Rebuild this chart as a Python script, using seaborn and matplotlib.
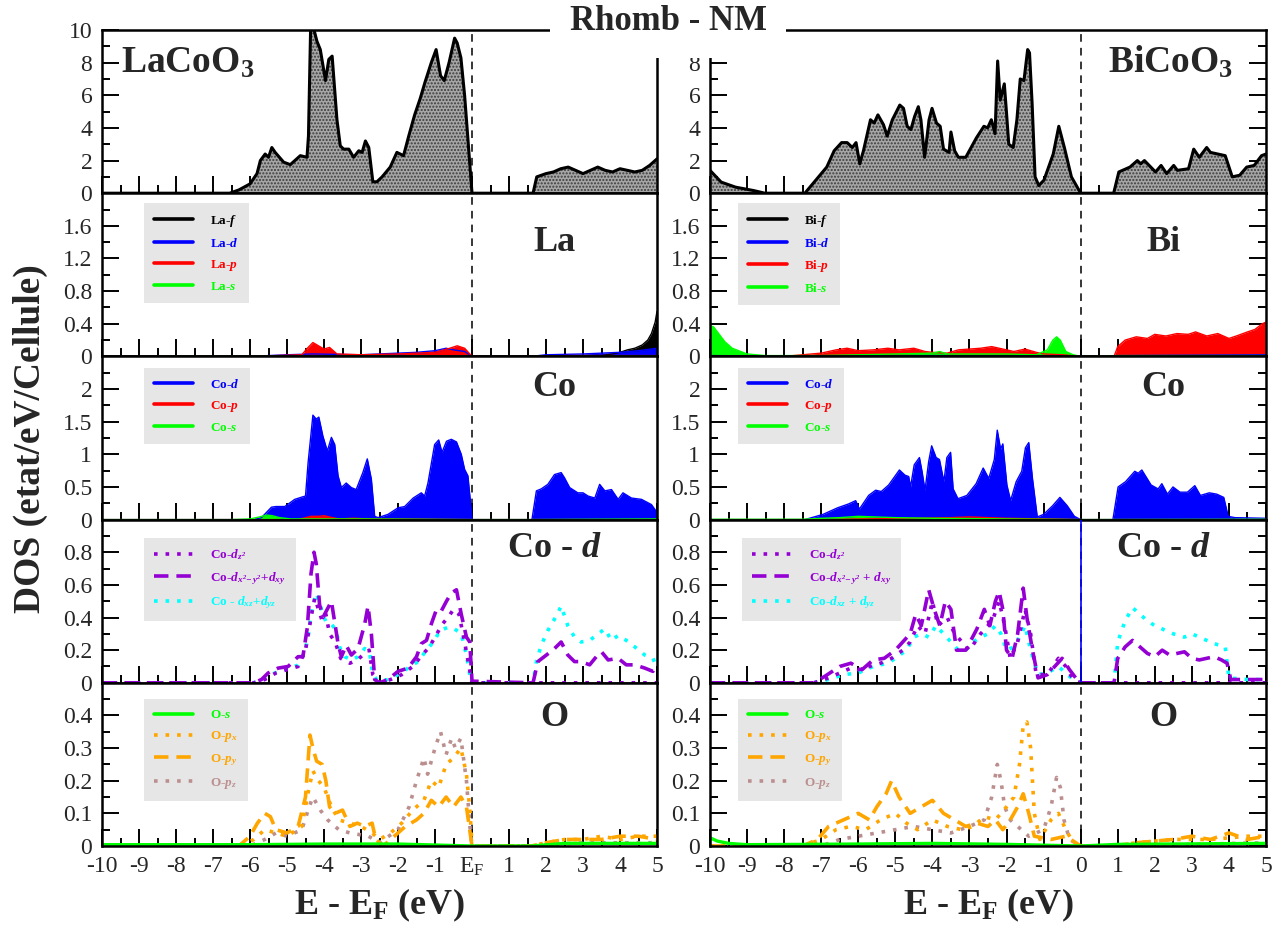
import numpy as np
import matplotlib
matplotlib.use("Agg")
import matplotlib.pyplot as plt
import seaborn as sns
from matplotlib.lines import Line2D
from matplotlib.ticker import FuncFormatter

sns.set_theme(style="ticks")
plt.rcParams['font.family'] = ['Liberation Serif', 'DejaVu Serif']
plt.rcParams['mathtext.fontset'] = 'custom'
plt.rcParams['mathtext.rm'] = 'Liberation Serif'
plt.rcParams['mathtext.it'] = 'Liberation Serif:italic'
plt.rcParams['mathtext.bf'] = 'Liberation Serif:bold'
plt.rcParams['mathtext.bfit'] = 'Liberation Serif:italic:bold'
plt.rcParams['hatch.linewidth'] = 1.0

# ---------------- DATA (E - E_F in eV, DOS) ----------------
# LaCoO3
lco_total = [(-10,0),(-6.55,0),(-6.3,0.2),(-6.0,0.57),(-5.81,1.2),(-5.72,2.0),(-5.59,2.4),(-5.5,2.2),(-5.41,2.8),(-5.32,2.5),(-5.09,1.9),(-4.91,1.75),(-4.64,2.3),(-4.46,2.2),(-4.42,3.5),(-4.36,10.3),(-4.28,10.1),(-4.19,9.3),(-4.1,8.8),(-3.96,6.9),(-3.87,8.2),(-3.78,8.4),(-3.65,4.5),(-3.56,2.9),(-3.47,2.7),(-3.33,2.7),(-3.2,2.2),(-3.06,2.6),(-2.97,2.5),(-2.88,3.2),(-2.79,2.8),(-2.68,0.7),(-2.57,0.7),(-2.43,1.0),(-2.21,1.6),(-2.03,2.5),(-1.85,2.3),(-1.71,3.5),(-1.55,4.8),(-1.4,5.8),(-1.27,6.8),(-1.1,8.0),(-0.97,8.8),(-0.85,7.2),(-0.75,6.9),(-0.62,8.0),(-0.47,9.5),(-0.4,9.2),(-0.3,8.3),(-0.2,6.0),(-0.1,3.0),(0.0,0.0),(1.65,0.0),(1.75,1.0),(2.0,1.2),(2.2,1.3),(2.4,1.5),(2.6,1.6),(2.8,1.4),(3.0,1.2),(3.2,1.4),(3.4,1.6),(3.6,1.4),(3.8,1.3),(4.0,1.5),(4.2,1.4),(4.4,1.3),(4.6,1.4),(4.8,1.7),(5.0,2.1)]
la_f = [(-10,0),(0,0.005),(3.5,0.01),(3.8,0.03),(4.0,0.05),(4.2,0.08),(4.4,0.1),(4.6,0.14),(4.75,0.2),(4.85,0.28),(4.95,0.42),(5.0,0.55)]
la_d = [(-10,0),(-6,0),(-5,0.02),(-4.3,0.03),(-3,0.02),(-2,0.04),(-1.5,0.05),(-1.0,0.07),(-0.7,0.1),(-0.5,0.08),(-0.2,0.06),(0,0),(1.6,0),(2.0,0.02),(3.0,0.03),(4.0,0.05),(4.5,0.07),(5.0,0.1)]
la_p = [(-10,0),(-6,0),(-4.6,0.02),(-4.45,0.1),(-4.3,0.17),(-4.15,0.13),(-4.0,0.09),(-3.85,0.11),(-3.65,0.03),(-3.0,0.02),(-2.0,0.03),(-1.0,0.05),(-0.6,0.1),(-0.4,0.13),(-0.2,0.1),(0,0),(1.6,0),(2.5,0.01),(5.0,0.01)]
la_s = [(-10,0.0),(-6,0.003),(-2,0.005),(0,0.0),(1.6,0),(5,0.005)]
co_d_la = [(-10,0),(-5.9,0),(-5.69,0.03),(-5.42,0.19),(-5.3,0.2),(-5.06,0.2),(-4.79,0.31),(-4.57,0.35),(-4.5,0.36),(-4.43,0.87),(-4.3,1.6),(-4.21,1.54),(-4.14,1.57),(-4.03,1.28),(-3.91,1.05),(-3.8,1.26),(-3.71,1.15),(-3.62,0.67),(-3.53,0.49),(-3.4,0.56),(-3.26,0.49),(-3.13,0.46),(-2.95,0.72),(-2.83,0.93),(-2.72,0.62),(-2.63,0.05),(-2.54,0.03),(-2.27,0.08),(-2.0,0.18),(-1.82,0.2),(-1.59,0.33),(-1.37,0.41),(-1.28,0.36),(-1.19,0.56),(-1.01,1.15),(-0.9,1.22),(-0.81,1.03),(-0.69,1.2),(-0.56,1.23),(-0.42,1.19),(-0.29,1.0),(-0.2,0.77),(-0.11,0.67),(-0.04,0.26),(0,0),(1.62,0),(1.74,0.44),(1.87,0.47),(2.05,0.54),(2.23,0.69),(2.41,0.72),(2.5,0.64),(2.64,0.49),(2.86,0.41),(3.0,0.41),(3.14,0.36),(3.32,0.33),(3.45,0.54),(3.59,0.44),(3.77,0.46),(3.95,0.31),(4.08,0.41),(4.31,0.33),(4.58,0.31),(4.85,0.23),(4.95,0.15),(5.0,0.12)]
co_p_la = [(-10,0),(-4.7,0),(-4.5,0.03),(-4.35,0.05),(-4.15,0.05),(-4.0,0.06),(-3.85,0.04),(-3.6,0.01),(-3.2,0.02),(-2.8,0.01),(0,0),(5,0)]
co_s_la = [(-10,0),(-6.5,0),(-6.0,0.01),(-5.75,0.04),(-5.55,0.07),(-5.4,0.06),(-5.2,0.03),(-4.9,0.01),(-3,0.01),(0,0),(1.6,0),(5,0.01)]
dz2_la = [(-10,0),(-5.9,0),(-5.6,0.02),(-5.3,0.06),(-5.0,0.08),(-4.7,0.1),(-4.5,0.2),(-4.35,0.4),(-4.25,0.52),(-4.15,0.45),(-4.05,0.38),(-3.95,0.42),(-3.85,0.3),(-3.7,0.25),(-3.55,0.15),(-3.3,0.12),(-3.1,0.14),(-2.9,0.18),(-2.78,0.2),(-2.68,0.05),(-2.5,0.0),(-2.2,0.02),(-1.9,0.05),(-1.6,0.1),(-1.35,0.17),(-1.15,0.22),(-0.95,0.3),(-0.8,0.36),(-0.65,0.4),(-0.5,0.45),(-0.35,0.42),(-0.2,0.25),(-0.08,0.1),(0,0),(5,0)]
dx2_la = [(-10,0),(-5.9,0),(-5.69,0.02),(-5.51,0.06),(-5.24,0.09),(-4.97,0.1),(-4.7,0.16),(-4.57,0.16),(-4.45,0.34),(-4.35,0.67),(-4.27,0.8),(-4.21,0.73),(-4.12,0.48),(-4.03,0.4),(-3.89,0.46),(-3.8,0.5),(-3.71,0.37),(-3.62,0.24),(-3.53,0.16),(-3.4,0.23),(-3.26,0.17),(-3.08,0.21),(-2.9,0.36),(-2.81,0.47),(-2.72,0.3),(-2.63,0.02),(-2.5,0.0),(-2.27,0.02),(-2.0,0.07),(-1.73,0.09),(-1.5,0.16),(-1.37,0.24),(-1.23,0.26),(-1.1,0.36),(-0.96,0.45),(-0.83,0.44),(-0.69,0.5),(-0.56,0.55),(-0.42,0.57),(-0.29,0.42),(-0.15,0.28),(-0.06,0.25),(0,0.01),(1.65,0),(1.78,0.13),(2.01,0.17),(2.23,0.21),(2.41,0.25),(2.59,0.17),(2.77,0.13),(2.95,0.13),(3.18,0.11),(3.36,0.16),(3.5,0.19),(3.68,0.14),(3.95,0.15),(4.17,0.11),(4.4,0.11),(4.67,0.09),(4.89,0.07),(5.0,0.11)]
dxz_la = [(-10,0),(-5.9,0),(-5.69,0.02),(-5.42,0.05),(-5.15,0.08),(-4.88,0.09),(-4.7,0.11),(-4.52,0.19),(-4.43,0.28),(-4.35,0.42),(-4.21,0.55),(-4.12,0.49),(-4.03,0.42),(-3.94,0.37),(-3.8,0.36),(-3.67,0.32),(-3.58,0.22),(-3.44,0.16),(-3.26,0.14),(-3.08,0.16),(-2.9,0.21),(-2.77,0.19),(-2.68,0.05),(-2.54,0.01),(-2.27,0.02),(-2.0,0.05),(-1.73,0.09),(-1.46,0.13),(-1.23,0.2),(-1.01,0.26),(-0.87,0.32),(-0.65,0.34),(-0.47,0.33),(-0.29,0.3),(-0.15,0.17),(-0.06,0.05),(0,0),(1.65,0),(1.74,0.13),(1.87,0.23),(2.05,0.32),(2.28,0.41),(2.41,0.47),(2.59,0.35),(2.77,0.28),(2.95,0.25),(3.18,0.26),(3.41,0.3),(3.59,0.33),(3.77,0.26),(3.95,0.29),(4.17,0.26),(4.4,0.22),(4.67,0.17),(4.89,0.15),(5.0,0.09)]
os_la = [(-10,0.004),(-6,0.004),(-4,0.006),(-2,0.006),(0,0.0),(1.6,0),(2.5,0.008),(5,0.008)]
opx_la = [(-10,0),(-6.2,0),(-5.9,0.02),(-5.6,0.05),(-5.3,0.04),(-5.0,0.03),(-4.6,0.06),(-4.4,0.18),(-4.3,0.23),(-4.15,0.2),(-4.0,0.18),(-3.8,0.12),(-3.6,0.08),(-3.3,0.07),(-3.0,0.06),(-2.7,0.04),(-2.5,0.02),(-2.2,0.04),(-1.9,0.07),(-1.6,0.11),(-1.3,0.14),(-1.1,0.2),(-0.9,0.18),(-0.7,0.25),(-0.5,0.27),(-0.3,0.3),(-0.15,0.22),(-0.05,0.1),(0,0),(1.6,0),(2.0,0.01),(2.5,0.02),(3.0,0.02),(3.5,0.03),(4.0,0.02),(4.5,0.03),(5.0,0.03)]
opy_la = [(-10,0),(-6.3,0),(-6.0,0.03),(-5.8,0.07),(-5.6,0.1),(-5.45,0.09),(-5.3,0.05),(-5.0,0.04),(-4.7,0.06),(-4.5,0.15),(-4.38,0.34),(-4.3,0.3),(-4.2,0.26),(-4.05,0.25),(-3.95,0.2),(-3.85,0.12),(-3.7,0.1),(-3.5,0.11),(-3.3,0.06),(-3.1,0.07),(-2.9,0.06),(-2.7,0.07),(-2.6,0.02),(-2.4,0.0),(-2.1,0.03),(-1.8,0.06),(-1.5,0.08),(-1.3,0.1),(-1.1,0.14),(-0.9,0.12),(-0.7,0.15),(-0.5,0.12),(-0.3,0.15),(-0.15,0.12),(0,0),(1.6,0),(2.0,0.01),(2.5,0.02),(3.0,0.02),(3.5,0.02),(4.0,0.03),(4.5,0.03),(5.0,0.02)]
opz_la = [(-10,0),(-6.0,0),(-5.6,0.02),(-5.3,0.04),(-5.0,0.03),(-4.6,0.05),(-4.4,0.12),(-4.3,0.15),(-4.1,0.11),(-3.9,0.08),(-3.6,0.05),(-3.3,0.04),(-2.8,0.03),(-2.5,0.01),(-2.0,0.05),(-1.7,0.12),(-1.5,0.2),(-1.3,0.27),(-1.2,0.22),(-1.0,0.3),(-0.85,0.35),(-0.7,0.28),(-0.55,0.33),(-0.45,0.3),(-0.3,0.33),(-0.15,0.2),(-0.05,0.05),(0,0),(1.6,0),(3,0.01),(5,0.01)]

# BiCoO3
bco_total = [(-10,1.4),(-9.7,0.68),(-9.31,0.37),(-8.82,0.16),(-8.52,0),(-7.44,0),(-6.85,1.6),(-6.65,2.6),(-6.45,3.1),(-6.3,3.1),(-6.16,2.8),(-6.06,3.1),(-5.96,1.8),(-5.86,2.6),(-5.67,4.5),(-5.57,4.3),(-5.47,4.8),(-5.32,4.2),(-5.22,3.5),(-5.08,4.5),(-4.88,5.4),(-4.78,5.2),(-4.68,4.1),(-4.58,3.9),(-4.48,4.7),(-4.38,5.3),(-4.31,4.5),(-4.21,2.2),(-4.09,4.5),(-4.01,5.2),(-3.89,4.3),(-3.79,4.1),(-3.7,2.7),(-3.55,2.5),(-3.5,3.75),(-3.4,2.6),(-3.3,2.2),(-3.1,2.2),(-2.81,3.4),(-2.61,4.1),(-2.51,4.0),(-2.41,4.5),(-2.31,3.65),(-2.24,8.1),(-2.17,5.7),(-2.06,6.7),(-2.0,4.9),(-1.94,3.0),(-1.82,2.8),(-1.72,4.5),(-1.63,7.0),(-1.53,6.9),(-1.43,8.8),(-1.38,8.6),(-1.31,5.5),(-1.23,1.0),(-1.13,0.47),(-0.99,0.8),(-0.74,2.4),(-0.59,4.1),(-0.44,2.8),(-0.25,1.0),(0.0,0.0),(0.89,0),(1.03,1.3),(1.33,1.6),(1.53,2.0),(1.62,1.8),(1.72,2.0),(2.02,1.3),(2.17,1.7),(2.32,1.2),(2.51,1.7),(2.61,1.4),(2.91,1.5),(3.05,2.7),(3.2,2.2),(3.4,2.8),(3.5,2.5),(3.7,2.4),(3.9,2.3),(4.09,1.0),(4.29,1.1),(4.48,1.6),(4.68,1.7),(4.88,2.3),(5.0,2.4)]
bi_f = [(-10,0.0),(-5,0.005),(0,0),(5,0.005)]
bi_d = [(-10,0.01),(-8,0.005),(-5,0.01),(-2,0.01),(0,0),(1,0.01),(5,0.02)]
bi_p = [(-10,0),(-8,0),(-7.5,0.02),(-7,0.04),(-6.6,0.08),(-6.3,0.1),(-6.0,0.07),(-5.6,0.08),(-5.2,0.1),(-4.9,0.08),(-4.5,0.1),(-4.2,0.06),(-4.0,0.05),(-3.6,0.04),(-3.3,0.08),(-3.0,0.09),(-2.7,0.1),(-2.4,0.12),(-2.2,0.1),(-2.0,0.08),(-1.8,0.06),(-1.5,0.09),(-1.2,0.05),(-1.0,0.03),(-0.5,0.02),(0,0),(0.9,0),(1.0,0.12),(1.2,0.2),(1.5,0.24),(1.8,0.22),(2.0,0.27),(2.3,0.25),(2.6,0.28),(2.9,0.27),(3.1,0.3),(3.4,0.25),(3.7,0.28),(4.0,0.22),(4.2,0.25),(4.5,0.3),(4.7,0.33),(4.9,0.4),(5.0,0.42)]
bi_s = [(-10,0.38),(-9.9,0.36),(-9.8,0.3),(-9.6,0.18),(-9.4,0.1),(-9.0,0.03),(-8.5,0.01),(-7,0.01),(-6,0.02),(-5,0.03),(-4,0.04),(-3.8,0.06),(-3.6,0.03),(-2,0.03),(-1.2,0.02),(-0.9,0.08),(-0.75,0.2),(-0.65,0.24),(-0.55,0.2),(-0.4,0.06),(-0.2,0.02),(0,0),(1,0.01),(5,0.01)]
co_d_bi = [(-10,0),(-7.44,0),(-6.95,0.08),(-6.56,0.18),(-6.26,0.24),(-6.07,0.29),(-5.97,0.16),(-5.72,0.37),(-5.53,0.45),(-5.38,0.43),(-5.18,0.53),(-4.89,0.76),(-4.74,0.68),(-4.64,0.66),(-4.59,0.5),(-4.49,0.84),(-4.35,0.95),(-4.28,0.74),(-4.2,0.45),(-4.1,0.89),(-4.02,1.13),(-3.9,0.95),(-3.81,0.92),(-3.69,0.58),(-3.61,0.95),(-3.51,1.03),(-3.44,0.47),(-3.31,0.32),(-3.07,0.37),(-2.82,0.55),(-2.63,0.79),(-2.48,0.63),(-2.33,0.92),(-2.25,1.37),(-2.16,1.08),(-2.1,1.16),(-1.99,0.53),(-1.89,0.29),(-1.74,0.58),(-1.59,0.74),(-1.49,1.1),(-1.4,1.18),(-1.3,0.63),(-1.17,0.04),(-1.0,0.08),(-0.76,0.21),(-0.56,0.34),(-0.36,0.21),(-0.17,0.05),(0,0),(0.87,0),(1.01,0.5),(1.21,0.58),(1.46,0.74),(1.55,0.71),(1.65,0.76),(1.9,0.53),(2.09,0.47),(2.19,0.55),(2.34,0.39),(2.49,0.5),(2.68,0.42),(2.88,0.42),(3.08,0.52),(3.23,0.37),(3.47,0.41),(3.67,0.39),(3.86,0.34),(3.98,0.05),(4.16,0.03),(5.0,0.02)]
co_p_bi = [(-10,0),(-7,0),(-6,0.01),(-4.5,0.02),(-3.5,0.03),(-3.0,0.04),(-2.5,0.03),(-2.0,0.02),(-1.0,0.01),(0,0),(5,0)]
co_s_bi = [(-10,0.005),(-7.5,0.005),(-7,0.02),(-6.5,0.03),(-6,0.05),(-5.5,0.04),(-5,0.03),(-4,0.02),(-2,0.01),(0,0),(5,0.005)]
dz2_bi = [(-10,0),(-7.2,0),(-6.8,0.03),(-6.5,0.06),(-6.2,0.09),(-6.0,0.08),(-5.7,0.1),(-5.4,0.12),(-5.1,0.15),(-4.8,0.2),(-4.6,0.25),(-4.4,0.35),(-4.2,0.3),(-4.0,0.5),(-3.85,0.35),(-3.6,0.4),(-3.4,0.3),(-3.2,0.25),(-3.0,0.2),(-2.7,0.3),(-2.5,0.35),(-2.35,0.4),(-2.2,0.5),(-2.05,0.35),(-1.9,0.15),(-1.7,0.25),(-1.5,0.45),(-1.35,0.3),(-1.2,0.05),(-0.9,0.05),(-0.6,0.15),(-0.4,0.1),(-0.2,0.02),(0,0),(5,0)]
dx2_bi = [(-10,0),(-7.2,0),(-6.9,0.04),(-6.5,0.1),(-6.2,0.12),(-5.9,0.08),(-5.6,0.14),(-5.3,0.15),(-5.0,0.2),(-4.8,0.25),(-4.6,0.3),(-4.45,0.42),(-4.3,0.35),(-4.1,0.57),(-3.95,0.45),(-3.8,0.35),(-3.65,0.5),(-3.5,0.45),(-3.35,0.2),(-3.1,0.2),(-2.8,0.33),(-2.6,0.45),(-2.45,0.35),(-2.3,0.5),(-2.2,0.56),(-2.1,0.45),(-2.0,0.2),(-1.85,0.15),(-1.7,0.3),(-1.55,0.58),(-1.45,0.4),(-1.3,0.2),(-1.15,0.03),(-0.9,0.05),(-0.7,0.1),(-0.5,0.15),(-0.3,0.08),(-0.1,0.02),(0,0),(0.9,0),(1.0,0.15),(1.2,0.22),(1.4,0.26),(1.6,0.22),(1.8,0.18),(2.0,0.16),(2.2,0.2),(2.4,0.17),(2.6,0.18),(2.8,0.19),(3.0,0.15),(3.2,0.14),(3.4,0.15),(3.6,0.16),(3.8,0.14),(3.95,0.12),(4.05,0.02),(4.5,0.02),(5.0,0.02)]
dxz_bi = [(-10,0),(-7.2,0),(-6.8,0.02),(-6.4,0.05),(-6.0,0.06),(-5.6,0.1),(-5.2,0.12),(-5.0,0.15),(-4.7,0.2),(-4.5,0.28),(-4.3,0.3),(-4.1,0.28),(-3.9,0.35),(-3.7,0.3),(-3.5,0.25),(-3.3,0.2),(-3.1,0.2),(-2.9,0.25),(-2.7,0.28),(-2.5,0.3),(-2.3,0.35),(-2.15,0.3),(-2.0,0.2),(-1.8,0.22),(-1.6,0.3),(-1.5,0.35),(-1.35,0.2),(-1.15,0.05),(-0.9,0.06),(-0.6,0.1),(-0.4,0.06),(-0.2,0.02),(0,0),(0.9,0),(1.0,0.25),(1.2,0.38),(1.4,0.46),(1.6,0.42),(1.8,0.38),(2.0,0.35),(2.2,0.33),(2.5,0.3),(2.8,0.28),(3.0,0.3),(3.3,0.27),(3.6,0.24),(3.9,0.22),(4.0,0.03),(4.5,0.02),(5.0,0.02)]
os_bi = [(-10,0.025),(-9.8,0.015),(-9.5,0.008),(-9,0.004),(-6,0.006),(-4,0.008),(-2,0.005),(0,0),(1,0.005),(5,0.008)]
opx_bi = [(-10,0),(-7.5,0),(-7.0,0.02),(-6.6,0.05),(-6.2,0.06),(-5.8,0.05),(-5.4,0.08),(-5.0,0.1),(-4.7,0.07),(-4.4,0.05),(-4.0,0.08),(-3.6,0.06),(-3.2,0.05),(-2.9,0.06),(-2.6,0.09),(-2.3,0.08),(-2.0,0.12),(-1.8,0.15),(-1.65,0.25),(-1.55,0.37),(-1.45,0.38),(-1.35,0.3),(-1.25,0.1),(-1.1,0.02),(-0.8,0.08),(-0.6,0.1),(-0.4,0.05),(-0.2,0.01),(0,0),(0.9,0),(1.5,0.01),(2.5,0.02),(3.5,0.02),(4.5,0.03),(5.0,0.03)]
opy_bi = [(-10,0),(-7.5,0),(-7.1,0.02),(-6.8,0.06),(-6.4,0.08),(-6.0,0.1),(-5.7,0.08),(-5.5,0.12),(-5.25,0.16),(-5.1,0.2),(-4.9,0.15),(-4.6,0.1),(-4.3,0.12),(-4.0,0.14),(-3.7,0.1),(-3.4,0.08),(-3.1,0.06),(-2.8,0.07),(-2.5,0.06),(-2.3,0.08),(-2.1,0.05),(-1.9,0.08),(-1.7,0.12),(-1.55,0.16),(-1.4,0.1),(-1.25,0.03),(-0.8,0.02),(-0.4,0.03),(0,0),(0.9,0),(1.5,0.01),(2.5,0.02),(3.0,0.03),(3.5,0.02),(4.0,0.04),(4.5,0.02),(5.0,0.03)]
opz_bi = [(-10,0),(-7,0),(-6.5,0.02),(-6.0,0.03),(-5.5,0.04),(-5.0,0.05),(-4.5,0.06),(-4.0,0.05),(-3.5,0.04),(-3.0,0.06),(-2.6,0.08),(-2.4,0.15),(-2.25,0.25),(-2.15,0.2),(-2.05,0.12),(-1.9,0.08),(-1.7,0.06),(-1.4,0.03),(-1.0,0.05),(-0.8,0.12),(-0.65,0.21),(-0.55,0.18),(-0.45,0.08),(-0.3,0.02),(0,0),(1,0),(5,0.01)]

x_ticks = list(range(-10, 6))
compounds = ['LaCoO$_\\mathbf{3}$', 'BiCoO$_\\mathbf{3}$']
site_labels = [['La', 'Co', 'Co - $\\mathbfit{d}$', 'O'], ['Bi', 'Co', 'Co - $\\mathbfit{d}$', 'O']]

# ---------------- colours / styles ----------------
BLUE, RED, GREEN, BLACK = '#0000ff', '#ff0000', '#00ff00', '#000000'
PURPLE, CYAN, ORANGE, ROSY = '#9400d3', '#00ffff', '#ffa500', '#bc8f8f'
DOT = (0, (1, 2.2))
DASH = (0, (4, 2.2))

fig = plt.figure(figsize=(12.81, 9.43), dpi=100)
W, H = 1281.0, 943.0
cols = [(102, 657), (710, 1266)]
top_px, ph = 30.0, 163.2

def fmt(v, pos):
    return '0' if abs(v) < 1e-9 else ('%g' % v)

ylims = [(0, 10), (0, 2.0), (0, 2.5), (0, 1.0), (0, 0.5)]
majors = [np.arange(0, 10.1, 2), np.arange(0, 1.61, 0.4), np.arange(0, 2.01, 0.5),
          np.arange(0, 0.81, 0.2), np.arange(0, 0.41, 0.1)]
minors = [np.arange(1, 10, 2), np.arange(0.2, 2.0, 0.4), np.arange(0.25, 2.5, 0.5),
          np.arange(0.1, 1.0, 0.2), np.arange(0.05, 0.5, 0.1)]

axes = [[None]*5 for _ in range(2)]
for c, (x0, x1) in enumerate(cols):
    for r in range(5):
        t = top_px + r*ph
        ax = fig.add_axes([x0/W, 1-(t+ph)/H, (x1-x0)/W, ph/H])
        ax.set_xlim(-10, 5)
        ax.set_ylim(*ylims[r])
        ax.set_xticks(x_ticks)
        ax.set_xticks(np.arange(-9.5, 5, 1), minor=True)
        yt = majors[r]
        if c == 1 and r == 0:
            yt = np.arange(0, 8.1, 2)
        ax.set_yticks(yt)
        ax.set_yticks(minors[r], minor=True)
        ax.yaxis.set_major_formatter(FuncFormatter(fmt))
        ax.tick_params(which='major', direction='in', length=12, width=1.4, color='black',
                       bottom=True, top=False, left=True, right=(c == 1), labelsize=17)
        ax.tick_params(axis='y', which='major', pad=7)
        ax.tick_params(axis='x', which='major', pad=7)
        ax.tick_params(which='minor', direction='in', length=6, width=1.4, color='black',
                       bottom=True, top=False, left=True, right=(c == 1))
        for sp in ax.spines.values():
            sp.set_linewidth(1.8)
            sp.set_color('black')
        if r < 4:
            ax.set_xticklabels([])
        else:
            labs = [str(v) for v in x_ticks]
            if c == 0:
                labs[10] = 'E$_\\mathrm{F}$'
            ax.set_xticklabels(labs)
        ax.axvline(0, color='black', ls=(0, (5, 4)), lw=1.1, zorder=1)
        axes[c][r] = ax

def draw(ax, pts, color, ls='-', lw=2.0, fill=False, fillcolor=None, z=2):
    E = [p[0] for p in pts]
    d = [p[1] for p in pts]
    if fill:
        ax.fill_between(E, d, 0, color=fillcolor or color, lw=0, zorder=z)
    sns.lineplot(x=E, y=d, color=color, linestyle=ls, lw=lw, ax=ax, sort=False,
                 estimator=None, zorder=z+0.1)

def legend(ax, entries, anchor):
    handles = [Line2D([], [], color=col, ls=ls, lw=2.6) for (_, col, ls) in entries]
    leg = ax.legend(handles, [e[0] for e in entries], loc='upper left', bbox_to_anchor=anchor,
                    frameon=True, fancybox=False, facecolor='#e6e6e6', edgecolor='none',
                    framealpha=1, fontsize=9.5, handlelength=3.0, handletextpad=1.3,
                    labelspacing=0.6, borderpad=0.75, borderaxespad=0)
    for txt, e in zip(leg.get_texts(), entries):
        txt.set_color(e[1])
        txt.set_fontweight('bold')
    leg.set_zorder(5)

# ---- Total DOS ----
for c, tot in enumerate([lco_total, bco_total]):
    ax = axes[c][0]
    E = [p[0] for p in tot]; d = [p[1] for p in tot]
    ax.fill_between(E, d, 0, facecolor='#a6a6a6', edgecolor='#3c3c3c', hatch='.....', lw=0, zorder=2)
    sns.lineplot(x=E, y=d, color='black', lw=2.2, ax=ax, sort=False, estimator=None, zorder=3)
axes[0][0].text(0.034, 0.80, compounds[0], transform=axes[0][0].transAxes, fontsize=27,
                fontweight='bold', ha='left', va='center', zorder=6)
axes[1][0].text(0.94, 0.80, compounds[1], transform=axes[1][0].transAxes, fontsize=27,
                fontweight='bold', ha='right', va='center', zorder=6)

# ---- A-site ----
site = [(la_f, la_d, la_p, la_s, 'La'), (bi_f, bi_d, bi_p, bi_s, 'Bi')]
for c, (f_, d_, p_, s_, nm) in enumerate(site):
    ax = axes[c][1]
    draw(ax, f_, BLACK, lw=1.0, fill=True)
    draw(ax, d_, BLUE, lw=1.0, fill=True)
    draw(ax, p_, RED, lw=1.0, fill=True)
    draw(ax, s_, GREEN, lw=1.0, fill=True)
    legend(ax, [(nm + '-$\\mathbfit{f}$', BLACK, '-'), (nm + '-$\\mathbfit{d}$', BLUE, '-'),
                (nm + '-$\\mathbfit{p}$', RED, '-'), (nm + '-$\\mathbfit{s}$', GREEN, '-')],
           (0.075 if c == 0 else 0.05, 0.94))

# ---- Co ----
co = [(co_d_la, co_p_la, co_s_la), (co_d_bi, co_p_bi, co_s_bi)]
for c, (d_, p_, s_) in enumerate(co):
    ax = axes[c][2]
    draw(ax, d_, BLUE, lw=1.0, fill=True)
    draw(ax, p_, RED, lw=1.0, fill=True)
    draw(ax, s_, GREEN, lw=1.0, fill=True)
    legend(ax, [('Co-$\\mathbfit{d}$', BLUE, '-'), ('Co-$\\mathbfit{p}$', RED, '-'),
                ('Co-$\\mathbfit{s}$', GREEN, '-')], (0.075 if c == 0 else 0.05, 0.93))

# ---- Co-d ----
cod = [(dz2_la, dx2_la, dxz_la), (dz2_bi, dx2_bi, dxz_bi)]
for c, (a_, b_, x_) in enumerate(cod):
    ax = axes[c][3]
    draw(ax, x_, CYAN, ls=DOT, lw=2.6)
    draw(ax, a_, PURPLE, ls=DOT, lw=2.6)
    draw(ax, b_, PURPLE, ls=DASH, lw=2.6)
    if c == 0:
        labs = ['Co-$\\mathbfit{d_{z^2}}$', 'Co-$\\mathbfit{d_{x^2\\!-y^2}}$+$\\mathbfit{d_{xy}}$',
                'Co - $\\mathbfit{d_{xz}}$+$\\mathbfit{d_{yz}}$']
    else:
        labs = ['Co-$\\mathbfit{d_{z^2}}$', 'Co-$\\mathbfit{d_{x^2\\!-y^2}}$ + $\\mathbfit{d_{xy}}$',
                'Co-$\\mathbfit{d_{xz}}$ + $\\mathbfit{d_{yz}}$']
    legend(ax, [(labs[0], PURPLE, DOT), (labs[1], PURPLE, DASH), (labs[2], CYAN, DOT)],
           (0.075 if c == 0 else 0.058, 0.89))
axes[1][3].axvline(0, color=BLUE, lw=1.2, zorder=4)

# ---- O ----
ox = [(os_la, opx_la, opy_la, opz_la), (os_bi, opx_bi, opy_bi, opz_bi)]
for c, (s_, x_, y_, z_) in enumerate(ox):
    ax = axes[c][4]
    draw(ax, z_, ROSY, ls=DOT, lw=2.6)
    draw(ax, x_, ORANGE, ls=DOT, lw=2.6)
    draw(ax, y_, ORANGE, ls=DASH, lw=2.6)
    draw(ax, s_, GREEN, lw=2.4)
    legend(ax, [('O-$\\mathbfit{s}$', GREEN, '-'), ('O-$\\mathbfit{p_x}$', ORANGE, DOT),
                ('O-$\\mathbfit{p_y}$', ORANGE, DASH), ('O-$\\mathbfit{p_z}$', ROSY, DOT)],
           (0.075 if c == 0 else 0.05, 0.90))

# panel labels
ypos = [0.70, 0.81, 0.82, 0.79]
for c in range(2):
    for r in range(1, 5):
        axes[c][r].text(0.815, ypos[r-1], site_labels[c][r-1], transform=axes[c][r].transAxes,
                        fontsize=26, fontweight='bold', ha='center', va='center', zorder=6)

for c in range(2):
    for r in range(5):
        axes[c][r].set_xlabel('')
        axes[c][r].set_ylabel('')

fig.text(0.5215, 0.977, 'Rhomb - NM', ha='center', va='center', fontsize=25, fontweight='bold',
         bbox=dict(facecolor='white', edgecolor='none', pad=14), zorder=10)
fig.text(0.024, 0.535, 'DOS (etat/eV/Cellule)', rotation=90, ha='center', va='center',
         fontsize=27, fontweight='bold')
fig.text((cols[0][0]+cols[0][1])/2/W, 0.040, 'E - E$_\\mathbf{F}$ (eV)', ha='center', va='center',
         fontsize=26, fontweight='bold')
fig.text((cols[1][0]+cols[1][1])/2/W, 0.040, 'E - E$_\\mathbf{F}$ (eV)', ha='center', va='center',
         fontsize=26, fontweight='bold')

fig.savefig('out.png', dpi=100)
